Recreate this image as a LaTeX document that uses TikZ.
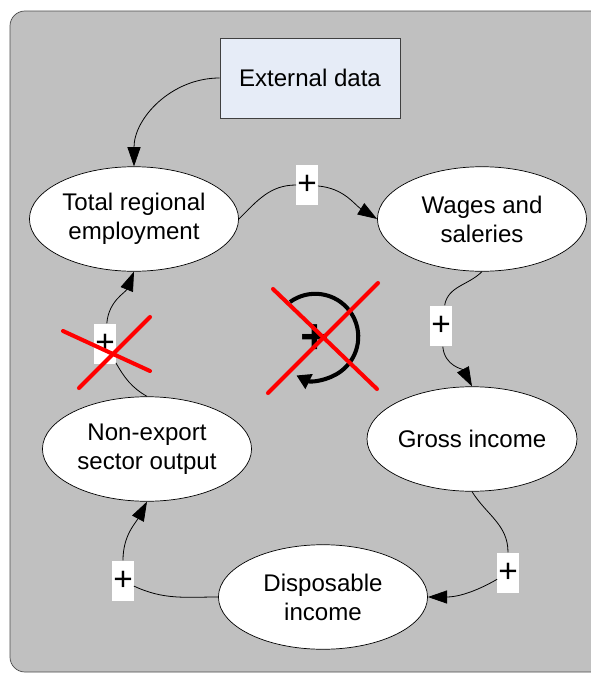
\documentclass[tikz,border=0pt]{standalone}
\usepackage{fontspec}
\setmainfont{Liberation Sans}
\usetikzlibrary{shapes.geometric,arrows.meta}

\definecolor{panelgray}{RGB}{192,192,192}
\definecolor{databox}{RGB}{230,236,247}

\tikzset{
  factor/.style={ellipse, draw=black, fill=white, minimum width=119pt,
    minimum height=59.5pt, inner sep=0pt, align=center,
    font=\fontsize{13.7}{16.6}\selectfont},
  source/.style={rectangle, draw=black!75, fill=databox, minimum width=102.6pt,
    minimum height=45.4pt, font=\fontsize{13.7}{16.6}\selectfont},
  polarity/.style={rectangle, fill=white, minimum width=12pt,
    minimum height=23.2pt, inner sep=0pt, font=\fontsize{19}{19}\selectfont},
  link/.style={draw=black, line width=0.45pt},
  linkarrow/.style={link, -{Triangle[length=11pt,width=7.5pt]}},
  cross/.style={draw=red, line width=2.3pt, line cap=round}
}

\begin{document}
\begin{tikzpicture}[x=0.02cm,y=-0.02cm]
  \useasboundingbox (0,0) rectangle (591,673);
  \clip (0,0) rectangle (591,673);

  % Panel
  \draw[fill=panelgray, draw=black!70, rounded corners=8.5pt]
    (10,11) rectangle (615,672);

  % Data source and factors
  \node[source] (ext) at (310,78) {External data};
  \node[factor] (emp) at (134,219) {Total regional\\employment};
  \node[factor] (wag) at (482,219) {Wages and\\saleries};
  \node[factor] (gro) at (472,439) {Gross income};
  \node[factor] (dis) at (323,597) {Disposable\\income};
  \node[factor] (non) at (147,449) {Non-export\\sector output};

  % Polarity labels
  \node[polarity] (plusA) at (307,185) {+};
  \node[polarity] (plusB) at (441,326) {+};
  \node[polarity] (plusC) at (508,573) {+};
  \node[polarity] (plusD) at (123,581) {+};
  \node[polarity] (plusE) at (105,344) {+};

  % Links
  \draw[linkarrow] (ext.west) to[out=180,in=90] (emp.north);
  \draw[link] (emp.east) to[out=45,in=180] (plusA);
  \draw[linkarrow] (plusA) to[out=-5,in=148] (wag.west);
  \draw[link] (wag.south) to[out=-135,in=80] (plusB);
  \draw[linkarrow] (plusB) to[out=-85,in=118] (gro.north);
  \draw[link] (gro.south) to[out=-58,in=90] (plusC);
  \draw[linkarrow] (plusC) to[out=-150,in=0] (dis.east);
  \draw[link] (dis.west) to[out=180,in=-25] (plusD);
  \draw[linkarrow] (plusD) to[out=90,in=-118] (non.south);
  \draw[link] (non.north) to[out=150,in=-60] (plusE);
  \draw[linkarrow] (plusE) to[out=85,in=-112] (emp.south);

  % Loop symbol
  \draw[line width=2.3pt, -{Triangle[length=8pt,width=9pt]}]
    (290,302) arc[start angle=126, end angle=-116, radius=0.86cm];
  \node[font=\fontsize{28}{28}\bfseries] (loop) at (315,339) {+};

  % Crossed out
  \draw[cross] (63,331) -- (150,371);
  \draw[cross] (79,388) -- (150,317);
  \draw[cross] (273,289) -- (377,389);
  \draw[cross] (378,283) -- (268,393);

\end{tikzpicture}
\end{document}
